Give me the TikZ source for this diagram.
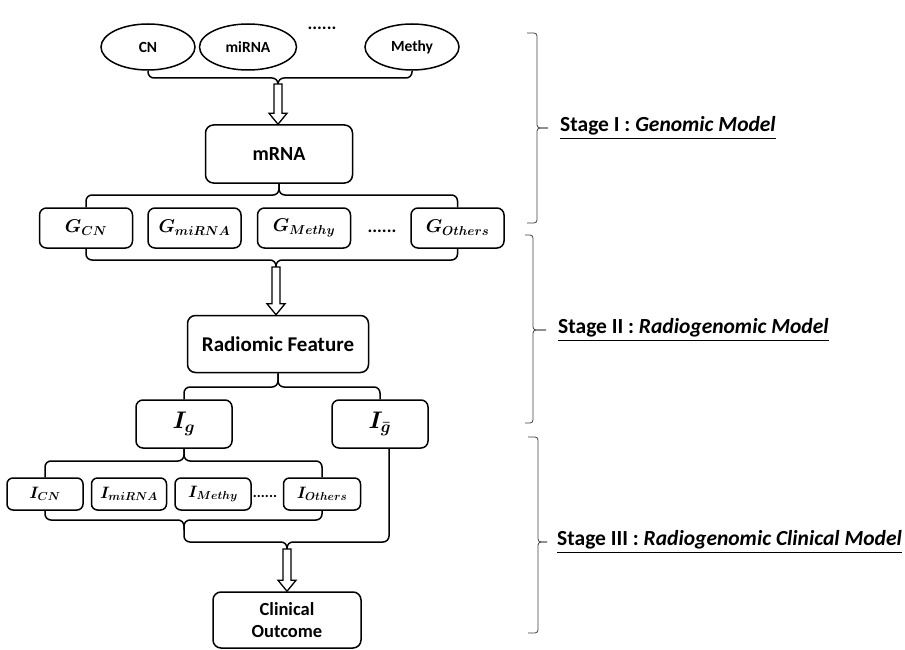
\RequirePackage{fix-cm}
\documentclass[tikz,border=0pt]{standalone}
\usepackage{amsmath,amssymb}
\usepackage{fontspec}
\setmainfont{Carlito}
\usepackage{tikz}
\usetikzlibrary{positioning,shapes.geometric,calc}

\begin{document}
\begin{tikzpicture}[x=1pt,y=-1pt,
omicsnode/.style={draw, ellipse, line width=1.5pt, minimum width=94pt, minimum height=46pt, inner sep=0pt, font=\fontsize{15.5}{18}\selectfont\bfseries},
featbox/.style={draw, rounded corners=8pt, line width=1.5pt, align=center, inner sep=0pt, font=\fontsize{20}{24}\selectfont\bfseries},
gbox/.style={draw, rounded corners=7pt, line width=1.5pt, minimum width=93pt, minimum height=40pt, inner sep=0pt, font=\fontsize{18.5}{20}\selectfont},
igbox/.style={gbox, minimum width=96pt, minimum height=48pt, font=\fontsize{24}{26}\selectfont},
ibox/.style={gbox, minimum width=76pt, minimum height=32pt, rounded corners=6pt, font=\fontsize{16.5}{18}\selectfont},
dotsnode/.style={inner sep=0pt, font=\fontsize{18}{20}\selectfont\bfseries},
brace/.style={line width=1.5pt, rounded corners=6pt},
holarr/.style={line width=1.3pt, fill=white, line join=miter},
stagebrace/.style={line width=0.8pt, black!75, rounded corners=3pt},
stagelbl/.style={inner sep=0pt, font=\fontsize{21.5}{24}\selectfont\bfseries}
]
\useasboundingbox (0,0) rectangle (905,650);

% Stage I: omics inputs
\node[omicsnode] (cn) at (148,47) {CN};
\node[omicsnode, minimum width=97pt] (mirna) at (248,47) {miRNA};
\node[omicsnode] (methy) at (412,47) {Methy};
\node[dotsnode] (dots1) at (322,28) {......};

\node[featbox, minimum width=147pt, minimum height=58pt] (mrna) at (279,154) {mRNA};

% gene groups
\node[gbox] (gcn) at (86,228) {$\boldsymbol{G_{CN}}$};
\node[gbox, right=14pt of gcn] (gmirna) {$\boldsymbol{G_{miRNA}}$};
\node[gbox, right=15pt of gmirna] (gmethy) {$\boldsymbol{G_{Methy}}$};
\node[dotsnode] (dots2) at (382,231) {......};
\node[gbox, right=59pt of gmethy] (gothers) {$\boldsymbol{G_{Others}}$};

% Stage II
\node[featbox, minimum width=181pt, minimum height=57pt, font=\fontsize{21}{24}\selectfont\bfseries] (radio) at (278,344) {Radiomic Feature};

\node[igbox] (ig) at (184,424) {$\boldsymbol{I_{g}}$};
\node[igbox] (igbar) at (380,424) {$\boldsymbol{I_{\bar{g}}}$};

% Stage III
\node[ibox] (icn) at (45,494) {$\boldsymbol{I_{CN}}$};
\node[ibox, minimum width=75pt, right=7pt of icn] (imirna) {$\boldsymbol{I_{miRNA}}$};
\node[ibox, right=7pt of imirna] (imethy) {$\boldsymbol{I_{Methy}}$};
\node[dotsnode, font=\fontsize{15}{18}\selectfont\bfseries] (dots3) at (265,496) {......};
\node[ibox, minimum width=77pt, right=31pt of imethy] (iothers) {$\boldsymbol{I_{Others}}$};

\node[featbox, minimum width=148pt, minimum height=56pt, font=\fontsize{18.5}{22}\selectfont\bfseries] (clin) at (287,620) {Clinical\\Outcome};

% brace junctions
\coordinate (j1) at (278,78);
\coordinate (j1t) at (278,84);
\coordinate (j2) at (279,195);
\coordinate (j3) at (276,260);
\coordinate (j3t) at (276,267);
\coordinate (j4) at (278,387);
\coordinate (j5) at (184,461);
\coordinate (j6) at (184,520);
\coordinate (j7) at (287,542);
\coordinate (j7t) at (287,549);
\coordinate (gb) at ($(igbar.south)+(9,0)$);

% braces
\draw[brace] (cn.south) |- (j1) -- (j1t);
\draw[brace] (methy.south) |- (j1) -- (j1t);
\draw[brace] (mrna.south) -- (j2) -| (gcn.north);
\draw[brace] (mrna.south) -- (j2) -| (gothers.north);
\draw[brace] (gcn.south) |- (j3) -- (j3t);
\draw[brace] (gothers.south) |- (j3) -- (j3t);
\draw[brace] (radio.south) -- (j4) -| (ig.north);
\draw[brace] (radio.south) -- (j4) -| (igbar.north);
\draw[brace] (ig.south) -- (j5) -| (icn.north);
\draw[brace] (ig.south) -- (j5) -| (iothers.north);
\draw[brace] (iothers.south) |- (j6) -- ++(0,10);
\draw[brace] (icn.south) |- (j6) |- (j7) -- (j7t);
\draw[brace] (gb) |- (j7) -- (j7t);

% hollow arrows
\foreach \s/\t in {j1t/mrna, j3t/radio, j7t/clin}
  \draw[holarr] let \p1=(\s), \p2=(\t.north) in
    (\x1-4pt,\y1) -- (\x1-4pt,\y2+11pt) -- (\x1-9pt,\y2+11pt) -- (\x1,\y2)
    -- (\x1+9pt,\y2+11pt) -- (\x1+4pt,\y2+11pt) -- (\x1+4pt,\y1) -- cycle;

% stage labels
\coordinate (s1a) at (527,33);
\coordinate (s1b) at (527,223);
\coordinate (s1m) at (537,128);
\coordinate (s2a) at (525,235);
\coordinate (s2b) at (525,423);
\coordinate (s2m) at (533,330);
\coordinate (s3a) at (528,437);
\coordinate (s3b) at (528,633);
\coordinate (s3m) at (538,542);

\node[stagelbl, right=23pt of s1m] (stage1) {\underline{Stage I : \textit{Genomic Model}}};
\node[stagelbl, right=25pt of s2m] (stage2) {\underline{Stage II : \textit{Radiogenomic Model}}};
\node[stagelbl, right=19pt of s3m] (stage3) {\underline{Stage III : \textit{Radiogenomic Clinical Model}}};

\draw[stagebrace, shorten >=12pt] (s1a) -| (s1m) -- (stage1.west);
\draw[stagebrace, shorten >=12pt] (s1b) -| (s1m) -- (stage1.west);
\draw[stagebrace, shorten >=12pt] (s2a) -| (s2m) -- (stage2.west);
\draw[stagebrace, shorten >=12pt] (s2b) -| (s2m) -- (stage2.west);
\draw[stagebrace, shorten >=10pt] (s3a) -| (s3m) -- (stage3.west);
\draw[stagebrace, shorten >=10pt] (s3b) -| (s3m) -- (stage3.west);
\end{tikzpicture}
\end{document}
